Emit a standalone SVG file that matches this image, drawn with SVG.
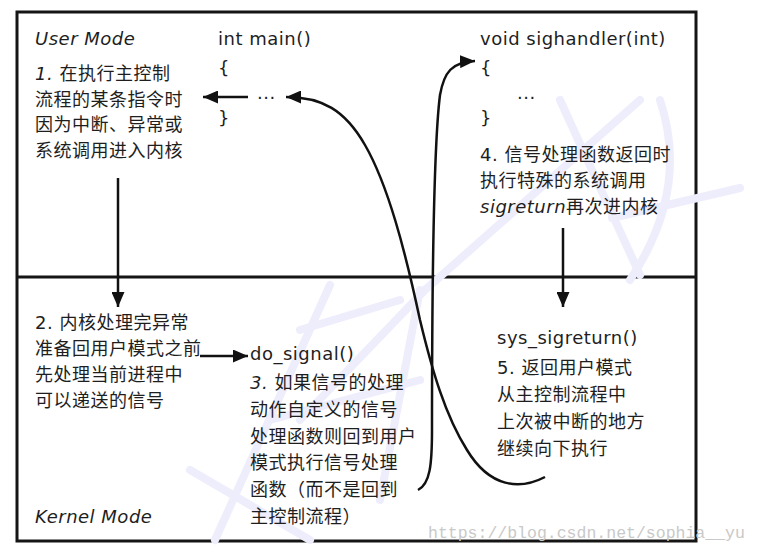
<svg xmlns="http://www.w3.org/2000/svg" width="758" height="554" viewBox="0 0 758 554">
<style>
.t{font-family:"DejaVu Sans","Noto Sans CJK SC",sans-serif;font-size:18px;fill:#1e1e1e;letter-spacing:0.5px}
.i{font-style:italic}
.ln{fill:none;stroke:#111;stroke-width:2.5}
.wm{fill:none;stroke:#eeedfc;stroke-width:8;stroke-linecap:round}
.url{font-family:"Liberation Mono",monospace;font-size:16.5px;fill:#c9c9c9}
</style>
<defs>
<marker id="ah" markerUnits="userSpaceOnUse" markerWidth="15" markerHeight="13" refX="15" refY="6.5" orient="auto">
<path d="M0,0 L15,6.5 L0,13 z" fill="#111"/>
</marker>
</defs>
<rect x="0" y="0" width="758" height="554" fill="#fff"/>
<g id="frame">
<rect x="17" y="12" width="679" height="529" fill="#fff" stroke="#151515" stroke-width="3"/>
<line x1="17" y1="277" x2="696" y2="277" stroke="#151515" stroke-width="3"/>
</g>
<g id="watermark">
<path class="wm" d="M560,100 L640,275"/>
<path class="wm" d="M640,100 L425,290 L300,420"/>
<path class="wm" d="M660,100 C680,160 670,220 630,280"/>
<path class="wm" d="M612,218 L740,188"/>
<path class="wm" d="M330,285 L215,540"/>
<path class="wm" d="M300,330 L400,300"/>
<path class="wm" d="M270,420 L420,380"/>
<path class="wm" d="M190,470 L310,540"/>
<path class="wm" d="M420,290 L380,500"/>
<text class="url" x="428" y="538">https://blog.csdn.net/sophia__yu</text>
</g>
<g id="user-mode">
<text class="t i" x="35" y="45">User Mode</text>
</g>
<g id="main">
<text class="t" x="218" y="45">int main()</text>
<text class="t" x="218" y="74">{</text>
<text class="t" x="257" y="99">...</text>
<text class="t" x="218" y="124">}</text>
</g>
<g id="step1">
<text class="t" x="35" y="80"><tspan class="i">1.</tspan> 在执行主控制</text>
<text class="t" x="35" y="106">流程的某条指令时</text>
<text class="t" x="35" y="131">因为中断、异常或</text>
<text class="t" x="35" y="157">系统调用进入内核</text>
</g>
<g id="sighandler">
<text class="t" x="480" y="45">void sighandler(int)</text>
<text class="t" x="480" y="74">{</text>
<text class="t" x="517" y="99">...</text>
<text class="t" x="480" y="124">}</text>
</g>
<g id="step4">
<text class="t" x="480" y="161">4. 信号处理函数返回时</text>
<text class="t" x="480" y="187">执行特殊的系统调用</text>
<text class="t" x="480" y="213"><tspan class="i">sigreturn</tspan>再次进内核</text>
</g>
<g id="step2">
<text class="t" x="35" y="329">2. 内核处理完异常</text>
<text class="t" x="35" y="355">准备回用户模式之前</text>
<text class="t" x="35" y="381">先处理当前进程中</text>
<text class="t" x="35" y="407">可以递送的信号</text>
</g>
<g id="do-signal">
<text class="t" x="250" y="360">do_signal()</text>
<text class="t" x="250" y="389"><tspan class="i">3.</tspan> 如果信号的处理</text>
<text class="t" x="250" y="416">动作自定义的信号</text>
<text class="t" x="250" y="443">处理函数则回到用户</text>
<text class="t" x="250" y="469">模式执行信号处理</text>
<text class="t" x="250" y="496">函数（而不是回到</text>
<text class="t" x="250" y="523">主控制流程）</text>
</g>
<g id="sys-sigreturn">
<text class="t" x="497" y="344">sys_sigreturn()</text>
<text class="t" x="497" y="374">5. 返回用户模式</text>
<text class="t" x="497" y="401">从主控制流程中</text>
<text class="t" x="497" y="428">上次被中断的地方</text>
<text class="t" x="497" y="455">继续向下执行</text>
</g>
<g id="kernel-mode">
<text class="t i" x="35" y="523">Kernel Mode</text>
</g>
<g id="connectors">
<line class="ln" x1="248" y1="97" x2="203" y2="97" marker-end="url(#ah)"/>
<line class="ln" x1="118" y1="178" x2="118" y2="307" marker-end="url(#ah)"/>
<line class="ln" x1="200" y1="356" x2="248" y2="356" marker-end="url(#ah)"/>
<line class="ln" x1="563" y1="228" x2="563" y2="307" marker-end="url(#ah)"/>
<path class="ln" d="M545,477 C520,490 490,488 467,450 C445,415 432,370 420,320 C405,250 388,185 365,145 C345,110 322,97 286,97" marker-end="url(#ah)"/>
<path class="ln" d="M418,490 C430,484 432,465 432,430 C432,300 433,150 440,95 C444,72 452,62 475,61" marker-end="url(#ah)"/>
</g>
</svg>
